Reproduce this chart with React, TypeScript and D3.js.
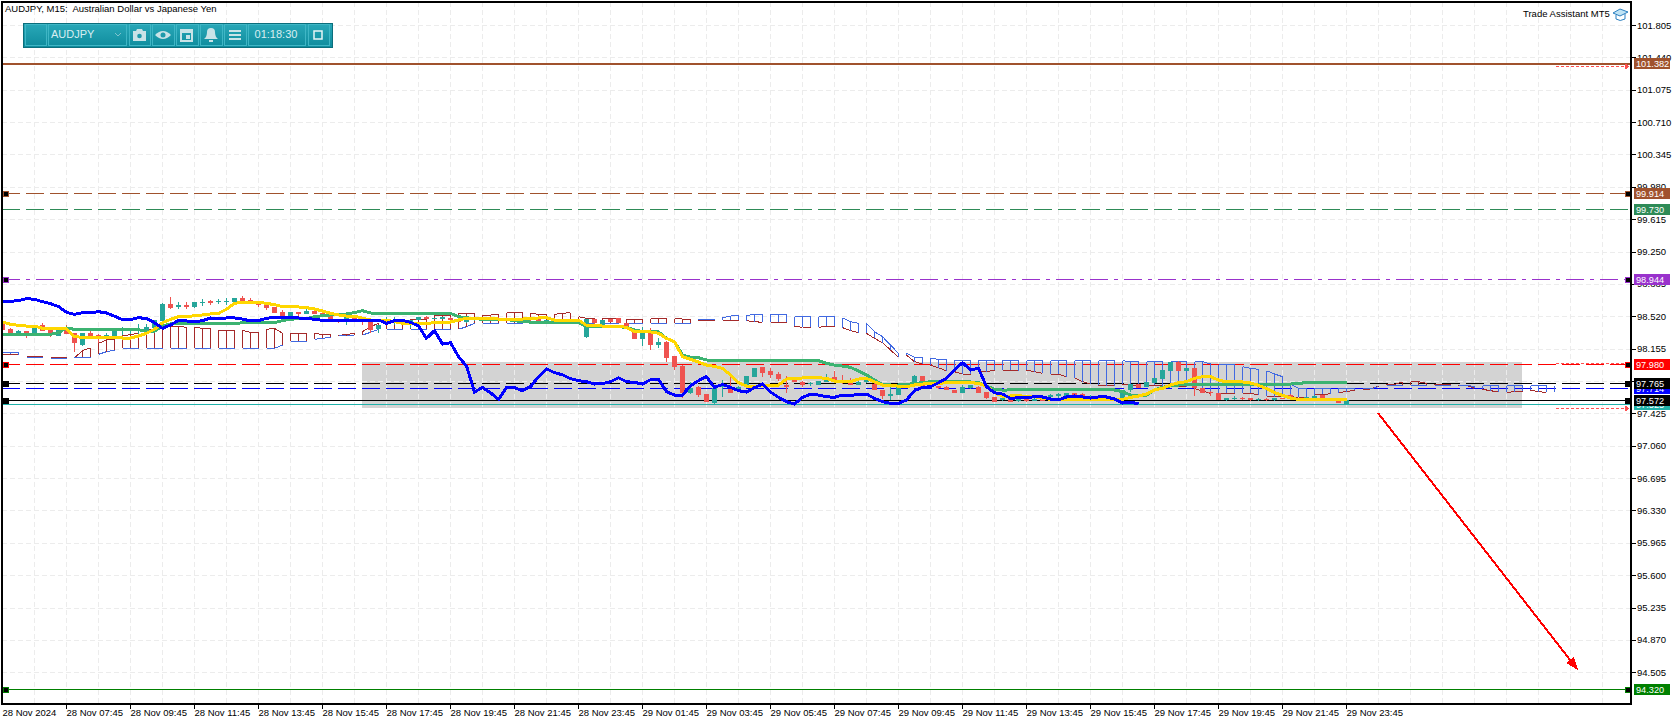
import * as d3 from 'd3'
import { useEffect, useRef } from 'react'

const WIDTH = 1679
const HEIGHT = 725
const PLOT_L = 2
const PLOT_T = 2
const PLOT_R = 1631
const PLOT_B = 704
const FONT = '"Liberation Sans", Arial, sans-serif'
const UP = '#26a69a'
const DOWN = '#ef5350'

const priceTicks = [101.805, 101.44, 101.075, 100.71, 100.345, 99.98, 99.615, 99.25, 98.885, 98.52, 98.155, 97.79, 97.425, 97.06, 96.695, 96.33, 95.965, 95.6, 95.235, 94.87, 94.505]
const timeTicks = d3.range(0, 169, 8)
const timeLabels = ['28 Nov 2024', '28 Nov 07:45', '28 Nov 09:45', '28 Nov 11:45', '28 Nov 13:45', '28 Nov 15:45', '28 Nov 17:45', '28 Nov 19:45', '28 Nov 21:45', '28 Nov 23:45', '29 Nov 01:45', '29 Nov 03:45', '29 Nov 05:45', '29 Nov 07:45', '29 Nov 09:45', '29 Nov 11:45', '29 Nov 13:45', '29 Nov 15:45', '29 Nov 17:45', '29 Nov 19:45', '29 Nov 21:45', '29 Nov 23:45']

const opens = [
  98.441, 98.377, 98.313, 98.350, 98.320, 98.422, 98.377, 98.298, 98.384, 98.328,
  98.196, 98.335, 98.309, 98.290, 98.283, 98.358, 98.354, 98.358, 98.358, 98.384,
  98.467, 98.659, 98.629, 98.651, 98.629, 98.666, 98.696, 98.677, 98.685, 98.681,
  98.730, 98.704, 98.674, 98.659, 98.625, 98.572, 98.523, 98.568, 98.546, 98.580,
  98.553, 98.527, 98.489, 98.470, 98.508, 98.489, 98.470, 98.373, 98.470, 98.467,
  98.478, 98.459, 98.478, 98.512, 98.493, 98.493, 98.504, 98.493, 98.459, 98.478,
  98.497, 98.516, 98.505, 98.504, 98.498, 98.497, 98.486, 98.486, 98.468, 98.460,
  98.474, 98.482, 98.474, 98.290, 98.489, 98.422, 98.485, 98.500, 98.440, 98.373,
  98.267, 98.365, 98.192, 98.234, 98.072, 97.959, 97.658, 97.726, 97.643, 97.538,
  97.718, 97.696, 97.696, 97.745, 97.839, 97.944, 97.903, 97.869, 97.745, 97.801,
  97.782, 97.752, 97.745, 97.782, 97.831, 97.782, 97.782, 97.745, 97.782, 97.756,
  97.688, 97.624, 97.632, 97.730, 97.756, 97.843, 97.764, 97.733, 97.726, 97.688,
  97.651, 97.707, 97.726, 97.662, 97.606, 97.575, 97.594, 97.560, 97.590, 97.565,
  97.590, 97.606, 97.621, 97.613, 97.651, 97.643, 97.606, 97.620, 97.590, 97.570,
  97.595, 97.689, 97.756, 97.719, 97.764, 97.813, 97.903, 98.008, 97.903, 97.933,
  97.707, 97.670, 97.651, 97.576, 97.590, 97.600, 97.595, 97.585, 97.590, 97.576,
  97.595, 97.632, 97.595, 97.587, 97.598, 97.628, 97.583, 97.565, 97.535,
]
const highs = [
  98.445, 98.385, 98.365, 98.355, 98.415, 98.448, 98.385, 98.373, 98.422, 98.335,
  98.335, 98.358, 98.320, 98.335, 98.365, 98.403, 98.384, 98.433, 98.433, 98.478,
  98.666, 98.741, 98.677, 98.677, 98.677, 98.711, 98.700, 98.715, 98.722, 98.730,
  98.753, 98.722, 98.680, 98.665, 98.630, 98.591, 98.572, 98.572, 98.606, 98.585,
  98.555, 98.530, 98.492, 98.508, 98.512, 98.492, 98.475, 98.422, 98.516, 98.516,
  98.485, 98.482, 98.512, 98.520, 98.504, 98.512, 98.510, 98.500, 98.478, 98.505,
  98.515, 98.520, 98.510, 98.512, 98.505, 98.503, 98.492, 98.490, 98.480, 98.490,
  98.490, 98.490, 98.488, 98.489, 98.495, 98.478, 98.490, 98.505, 98.445, 98.378,
  98.403, 98.384, 98.271, 98.240, 98.075, 97.965, 97.782, 97.735, 97.648, 97.710,
  97.800, 97.839, 97.735, 97.850, 97.936, 97.952, 97.933, 97.895, 97.846, 97.810,
  97.785, 97.775, 97.790, 97.869, 97.906, 97.854, 97.820, 97.785, 97.820, 97.782,
  97.692, 97.745, 97.760, 97.760, 97.860, 97.850, 97.770, 97.738, 97.733, 97.690,
  97.745, 97.745, 97.735, 97.665, 97.610, 97.600, 97.600, 97.600, 97.595, 97.600,
  97.600, 97.640, 97.650, 97.651, 97.655, 97.650, 97.630, 97.630, 97.600, 97.610,
  97.690, 97.756, 97.760, 97.775, 97.820, 97.914, 98.008, 98.020, 97.933, 97.940,
  97.710, 97.675, 97.655, 97.600, 97.620, 97.605, 97.600, 97.600, 97.595, 97.600,
  97.600, 97.640, 97.600, 97.610, 97.630, 97.632, 97.590, 97.570, 97.580,
]
const lows = [
  98.365, 98.320, 98.305, 98.271, 98.320, 98.350, 98.283, 98.298, 98.320, 98.121,
  98.190, 98.298, 98.215, 98.271, 98.283, 98.309, 98.320, 98.320, 98.358, 98.384,
  98.467, 98.599, 98.602, 98.599, 98.610, 98.640, 98.647, 98.655, 98.647, 98.681,
  98.674, 98.666, 98.621, 98.591, 98.553, 98.523, 98.523, 98.516, 98.546, 98.546,
  98.516, 98.478, 98.448, 98.422, 98.478, 98.422, 98.335, 98.335, 98.422, 98.422,
  98.459, 98.384, 98.478, 98.486, 98.490, 98.490, 98.478, 98.459, 98.440, 98.470,
  98.490, 98.485, 98.495, 98.492, 98.490, 98.480, 98.470, 98.470, 98.460, 98.445,
  98.465, 98.470, 98.466, 98.278, 98.384, 98.422, 98.459, 98.440, 98.395, 98.264,
  98.185, 98.140, 98.166, 98.008, 97.914, 97.594, 97.640, 97.610, 97.550, 97.530,
  97.610, 97.650, 97.670, 97.745, 97.839, 97.839, 97.820, 97.794, 97.658, 97.780,
  97.718, 97.730, 97.745, 97.780, 97.790, 97.755, 97.740, 97.745, 97.770, 97.688,
  97.583, 97.575, 97.632, 97.725, 97.756, 97.718, 97.726, 97.696, 97.688, 97.650,
  97.650, 97.700, 97.651, 97.590, 97.555, 97.560, 97.555, 97.555, 97.555, 97.560,
  97.560, 97.590, 97.600, 97.600, 97.620, 97.600, 97.590, 97.580, 97.560, 97.560,
  97.590, 97.670, 97.707, 97.719, 97.764, 97.813, 97.903, 97.903, 97.903, 97.621,
  97.660, 97.620, 97.575, 97.565, 97.575, 97.580, 97.570, 97.565, 97.560, 97.570,
  97.590, 97.585, 97.570, 97.580, 97.590, 97.580, 97.560, 97.540, 97.530,
]
const closes = [
  98.365, 98.320, 98.358, 98.298, 98.411, 98.358, 98.313, 98.373, 98.320, 98.215,
  98.335, 98.298, 98.290, 98.309, 98.358, 98.365, 98.365, 98.373, 98.403, 98.478,
  98.659, 98.617, 98.647, 98.629, 98.677, 98.685, 98.666, 98.696, 98.692, 98.730,
  98.696, 98.666, 98.647, 98.610, 98.553, 98.523, 98.572, 98.542, 98.583, 98.546,
  98.516, 98.478, 98.471, 98.508, 98.478, 98.470, 98.365, 98.422, 98.482, 98.478,
  98.459, 98.478, 98.512, 98.486, 98.504, 98.512, 98.478, 98.459, 98.478, 98.497,
  98.508, 98.505, 98.501, 98.498, 98.495, 98.486, 98.474, 98.471, 98.474, 98.478,
  98.480, 98.476, 98.482, 98.489, 98.440, 98.478, 98.459, 98.440, 98.395, 98.264,
  98.346, 98.196, 98.230, 98.053, 97.952, 97.651, 97.715, 97.632, 97.557, 97.707,
  97.745, 97.658, 97.718, 97.846, 97.933, 97.884, 97.858, 97.809, 97.726, 97.782,
  97.745, 97.771, 97.790, 97.809, 97.794, 97.764, 97.745, 97.782, 97.809, 97.688,
  97.621, 97.640, 97.718, 97.752, 97.846, 97.718, 97.726, 97.715, 97.688, 97.651,
  97.718, 97.745, 97.651, 97.594, 97.557, 97.594, 97.557, 97.590, 97.565, 97.590,
  97.565, 97.632, 97.640, 97.651, 97.628, 97.606, 97.620, 97.590, 97.570, 97.600,
  97.689, 97.756, 97.707, 97.775, 97.820, 97.914, 98.008, 97.903, 97.933, 97.707,
  97.660, 97.651, 97.576, 97.595, 97.600, 97.585, 97.576, 97.590, 97.575, 97.595,
  97.592, 97.587, 97.576, 97.606, 97.621, 97.583, 97.565, 97.545, 97.572,
]

// Tenkan
const tenkan = [
  98.456, 98.429, 98.418, 98.410, 98.410, 98.384, 98.377, 98.377, 98.377, 98.290,
  98.283, 98.283, 98.283, 98.283, 98.279, 98.275, 98.275, 98.298, 98.328, 98.373,
  98.448, 98.486, 98.516, 98.516, 98.527, 98.535, 98.546, 98.553, 98.599, 98.666,
  98.677, 98.681, 98.677, 98.666, 98.651, 98.629, 98.625, 98.625, 98.617, 98.602,
  98.580, 98.553, 98.535, 98.523, 98.523, 98.497, 98.478, 98.478, 98.478, 98.459,
  98.440, 98.440, 98.440, 98.440, 98.448, 98.448, 98.455, 98.478, 98.497, 98.497,
  98.497, 98.493, 98.489, 98.486, 98.486, 98.489, 98.493, 98.501, 98.504, 98.478,
  98.478, 98.478, 98.478, 98.418, 98.414, 98.410, 98.410, 98.407, 98.395, 98.346,
  98.343, 98.343, 98.328, 98.271, 98.233, 98.064, 98.034, 98.004, 97.970, 97.955,
  97.933, 97.858, 97.771, 97.733, 97.726, 97.745, 97.745, 97.745, 97.812, 97.820,
  97.824, 97.827, 97.827, 97.820, 97.790, 97.782, 97.782, 97.812, 97.820, 97.782,
  97.745, 97.737, 97.733, 97.726, 97.745, 97.756, 97.764, 97.764, 97.771, 97.771,
  97.771, 97.771, 97.764, 97.733, 97.658, 97.621, 97.621, 97.628, 97.613, 97.613,
  97.595, 97.583, 97.576, 97.576, 97.576, 97.576, 97.576, 97.576, 97.576, 97.576,
  97.583, 97.606, 97.621, 97.643, 97.689, 97.707, 97.745, 97.771, 97.783, 97.820,
  97.839, 97.839, 97.801, 97.779, 97.779, 97.779, 97.768, 97.741, 97.704, 97.659,
  97.628, 97.598, 97.583, 97.583, 97.583, 97.583, 97.583, 97.583, 97.583,
]
// Kijun
const kijun = [
  98.313, 98.313, 98.313, 98.313, 98.313, 98.313, 98.317, 98.335, 98.388, 98.373,
  98.369, 98.369, 98.369, 98.369, 98.369, 98.369, 98.369, 98.369, 98.347, 98.350,
  98.414, 98.433, 98.437, 98.437, 98.437, 98.437, 98.437, 98.437, 98.437, 98.437,
  98.448, 98.448, 98.448, 98.448, 98.448, 98.471, 98.486, 98.493, 98.493, 98.516,
  98.527, 98.535, 98.535, 98.546, 98.561, 98.583, 98.557, 98.553, 98.553, 98.553,
  98.553, 98.553, 98.553, 98.553, 98.553, 98.553, 98.553, 98.516, 98.504, 98.493,
  98.486, 98.486, 98.486, 98.486, 98.470, 98.459, 98.455, 98.448, 98.448, 98.448,
  98.448, 98.448, 98.448, 98.403, 98.403, 98.403, 98.403, 98.403, 98.395, 98.365,
  98.350, 98.343, 98.343, 98.271, 98.233, 98.083, 98.057, 98.053, 98.027, 98.019,
  98.019, 98.019, 98.019, 98.019, 98.019, 98.019, 98.019, 98.019, 98.019, 98.019,
  98.019, 98.019, 98.019, 97.989, 97.970, 97.959, 97.944, 97.903, 97.858, 97.801,
  97.752, 97.745, 97.745, 97.749, 97.764, 97.771, 97.782, 97.782, 97.782, 97.782,
  97.782, 97.779, 97.771, 97.733, 97.696, 97.688, 97.689, 97.689, 97.689, 97.689,
  97.689, 97.689, 97.689, 97.689, 97.689, 97.689, 97.689, 97.689, 97.689, 97.689,
  97.670, 97.632, 97.632, 97.632, 97.689, 97.719, 97.734, 97.745, 97.756, 97.756,
  97.756, 97.756, 97.756, 97.756, 97.756, 97.756, 97.756, 97.745, 97.749, 97.749,
  97.749, 97.756, 97.764, 97.771, 97.771, 97.771, 97.771, 97.771, 97.771,
]
// Chikou stops 26 bars before the last candle
const chikou = [
  98.685, 98.689, 98.696, 98.719, 98.711, 98.685, 98.662, 98.629, 98.565, 98.542,
  98.561, 98.561, 98.572, 98.557, 98.520, 98.482, 98.482, 98.505, 98.493, 98.448,
  98.384, 98.422, 98.474, 98.467, 98.456, 98.471, 98.501, 98.497, 98.501, 98.501,
  98.489, 98.467, 98.471, 98.497, 98.508, 98.505, 98.501, 98.501, 98.497, 98.486,
  98.474, 98.471, 98.471, 98.478, 98.478, 98.478, 98.478, 98.478, 98.440, 98.470,
  98.474, 98.452, 98.410, 98.271, 98.358, 98.207, 98.222, 98.064, 97.959, 97.666,
  97.718, 97.658, 97.583, 97.718, 97.715, 97.681, 97.726, 97.839, 97.929, 97.884,
  97.861, 97.816, 97.794, 97.782, 97.756, 97.760, 97.782, 97.827, 97.782, 97.775,
  97.756, 97.805, 97.805, 97.670, 97.632, 97.632, 97.735, 97.794, 97.839, 97.718,
  97.752, 97.718, 97.681, 97.666, 97.715, 97.756, 97.666, 97.606, 97.557, 97.530,
  97.606, 97.640, 97.632, 97.613, 97.606, 97.632, 97.625, 97.640, 97.643, 97.594,
  97.557, 97.538, 97.538, 97.576, 97.681, 97.718, 97.726, 97.771, 97.820, 97.914,
  97.997, 97.914, 97.933, 97.726, 97.658, 97.643, 97.594, 97.602, 97.602, 97.613,
  97.610, 97.587, 97.576, 97.610, 97.621, 97.610, 97.598, 97.610, 97.610, 97.587,
  97.542, 97.553, 97.531,
]
// Cloud runs 26 bars past the last candle
const spanA = [
  98.091, 98.091, 98.083, 98.065, 98.065, 98.065, 98.053, 98.053, 98.053, 98.053,
  98.132, 98.166, 98.215, 98.253, 98.264, 98.298, 98.313, 98.328, 98.365, 98.377,
  98.403, 98.407, 98.407, 98.395, 98.395, 98.384, 98.384, 98.362, 98.362, 98.362,
  98.362, 98.339, 98.339, 98.373, 98.384, 98.328, 98.328, 98.328, 98.328, 98.328,
  98.313, 98.313, 98.305, 98.313, 98.328, 98.346, 98.403, 98.440, 98.478, 98.478,
  98.478, 98.478, 98.486, 98.486, 98.534, 98.534, 98.534, 98.553, 98.553, 98.553,
  98.534, 98.534, 98.542, 98.561, 98.561, 98.561, 98.553, 98.542, 98.542, 98.542,
  98.553, 98.561, 98.516, 98.497, 98.497, 98.497, 98.497, 98.497, 98.486, 98.486,
  98.486, 98.489, 98.497, 98.497, 98.493, 98.489, 98.478, 98.474, 98.478, 98.478,
  98.478, 98.478, 98.478, 98.470, 98.459, 98.452, 98.452, 98.452, 98.452, 98.410,
  98.395, 98.395, 98.395, 98.410, 98.410, 98.392, 98.358, 98.335, 98.328, 98.271,
  98.222, 98.140, 98.057, 98.083, 98.008, 97.982, 97.970, 97.940, 97.903, 97.895,
  97.869, 97.869, 97.895, 97.895, 97.914, 97.914, 97.914, 97.906, 97.914, 97.895,
  97.877, 97.865, 97.865, 97.839, 97.828, 97.783, 97.756, 97.745, 97.737, 97.737,
  97.756, 97.745, 97.745, 97.745, 97.741, 97.734, 97.734, 97.730, 97.726, 97.707,
  97.677, 97.651, 97.651, 97.651, 97.651, 97.651, 97.651, 97.632, 97.621, 97.613,
  97.613, 97.613, 97.606, 97.606, 97.636, 97.640, 97.645, 97.660, 97.670, 97.685,
  97.700, 97.696, 97.737, 97.752, 97.752, 97.782, 97.782, 97.782, 97.764, 97.752,
  97.752, 97.752, 97.745, 97.741, 97.707, 97.696, 97.681, 97.666, 97.662, 97.670,
  97.677, 97.685, 97.670, 97.662, 97.662,
]
const spanB = [
  98.110, 98.110, 98.110, 98.057, 98.057, 98.057, 98.046, 98.046, 98.046, 98.053,
  98.057, 98.057, 98.091, 98.121, 98.136, 98.159, 98.159, 98.159, 98.159, 98.159,
  98.159, 98.159, 98.159, 98.159, 98.159, 98.159, 98.159, 98.159, 98.159, 98.159,
  98.159, 98.159, 98.159, 98.159, 98.159, 98.196, 98.238, 98.238, 98.238, 98.260,
  98.271, 98.283, 98.298, 98.301, 98.309, 98.309, 98.339, 98.373, 98.373, 98.373,
  98.373, 98.373, 98.373, 98.373, 98.373, 98.373, 98.373, 98.373, 98.403, 98.440,
  98.440, 98.440, 98.440, 98.440, 98.440, 98.440, 98.440, 98.440, 98.440, 98.440,
  98.440, 98.440, 98.440, 98.440, 98.440, 98.440, 98.440, 98.440, 98.440, 98.440,
  98.440, 98.440, 98.440, 98.440, 98.440, 98.440, 98.440, 98.478, 98.486, 98.486,
  98.504, 98.523, 98.534, 98.527, 98.542, 98.542, 98.542, 98.542, 98.542, 98.516,
  98.516, 98.516, 98.516, 98.516, 98.516, 98.504, 98.459, 98.440, 98.440, 98.346,
  98.290, 98.196, 98.102, 98.102, 98.057, 98.057, 98.046, 98.034, 98.034, 98.027,
  98.023, 98.023, 98.023, 98.023, 98.023, 98.023, 98.023, 98.023, 98.019, 98.019,
  98.019, 98.019, 98.019, 98.019, 98.019, 98.019, 98.019, 98.019, 98.019, 98.019,
  98.019, 98.008, 98.008, 98.008, 98.008, 98.008, 98.008, 98.008, 98.008, 98.008,
  98.008, 97.982, 97.971, 97.971, 97.971, 97.952, 97.933, 97.922, 97.907, 97.869,
  97.839, 97.756, 97.707, 97.707, 97.707, 97.707, 97.707, 97.707, 97.707, 97.707,
  97.700, 97.700, 97.726, 97.745, 97.745, 97.745, 97.745, 97.745, 97.745, 97.745,
  97.745, 97.745, 97.745, 97.745, 97.726, 97.737, 97.737, 97.737, 97.737, 97.737,
  97.737, 97.737, 97.737, 97.737, 97.737,
]

const levelPrices = [101.382, 99.914, 99.73, 98.944, 97.98, 97.709, 97.765, 97.53, 97.572, 94.32]
const levelLabels = ['101.382', '99.914', '99.730', '98.944', '97.980', '97.714', '97.765', '97.525', '97.572', '94.320']
const levelColors = ['#a0522d', '#a0522d', '#2e8b57', '#9932cc', '#ff0000', '#0000ff', '#000000', '#20b2aa', '#000000', '#008000']
const levelDashes = ['', '18 6', '18 6', '18 6 4 6', '18 6', '18 6', '18 6', '', '', '']
const levelWidths = [2, 1, 1, 1, 1, 1, 1, 1, 1, 1]
const levelMarkers = [false, true, false, true, true, false, true, false, true, true]

const bandPrices = [97.98, 97.485]
const bandBars = [45, 190]
const targetBars = [172, 197]
const targetPrices = [97.43, 94.53]
const signalPrices = [101.339, 97.997, 97.482]
const signalBars = [194.25, 203.4]

export default function App() {
  const rootRef = useRef<SVGGElement>(null)

  useEffect(() => {
    if (!rootRef.current) return
    const root = d3.select(rootRef.current)
    root.selectAll('*').remove()

    const x = d3.scaleLinear().domain([0, 8]).range([PLOT_L, PLOT_L + 64])
    const y = d3.scaleLinear().domain([101.805, 94.505]).range([25, 672.3])

    const defs = root.append('defs')
    defs.append('clipPath').attr('id', 'plot')
      .append('rect').attr('x', PLOT_L).attr('y', PLOT_T)
      .attr('width', PLOT_R - PLOT_L).attr('height', PLOT_B - PLOT_T)
    const grad = defs.append('linearGradient').attr('id', 'bar').attr('x1', 0).attr('x2', 0).attr('y1', 0).attr('y2', 1)
    grad.append('stop').attr('offset', 0).attr('stop-color', '#2aa9b9')
    grad.append('stop').attr('offset', 1).attr('stop-color', '#0f8c9d')

    const plot = root.append('g').attr('clip-path', 'url(#plot)').attr('shape-rendering', 'crispEdges')

    // Grey range box
    plot.append('rect')
      .attr('x', x(bandBars[0])).attr('y', y(bandPrices[0]) - 2)
      .attr('width', x(bandBars[1]) - x(bandBars[0]))
      .attr('height', y(bandPrices[1]) - y(bandPrices[0]) + 2)
      .attr('fill', '#d3d3d3')

    // Grid
    const grid = plot.append('g').attr('stroke', '#ececec').attr('stroke-dasharray', '5 3')
    priceTicks.forEach(t => {
      grid.append('line').attr('x1', PLOT_L).attr('x2', PLOT_R)
        .attr('y1', Math.round(y(t)) + 0.5).attr('y2', Math.round(y(t)) + 0.5)
    })
    d3.range(PLOT_L + 32, PLOT_R, 32).forEach(px => {
      grid.append('line').attr('y1', PLOT_T).attr('y2', PLOT_B)
        .attr('x1', px + 0.5).attr('x2', px + 0.5)
    })

    // Horizontal levels
    levelPrices.forEach((p, i) => {
      plot.append('line')
        .attr('x1', PLOT_L).attr('x2', PLOT_R)
        .attr('y1', Math.round(y(p)) + 0.5).attr('y2', Math.round(y(p)) + 0.5)
        .attr('stroke', levelColors[i])
        .attr('stroke-width', levelWidths[i])
        .attr('stroke-dasharray', levelDashes[i] || null)
    })

    // Ichimoku cloud, drawn in dashed groups of three bars
    const hasSegment = (i: number) => (i < 110 ? i % 3 < 2 : (i + 1) % 3 < 2)
    const cloud = plot.append('g').attr('fill', 'none').attr('stroke-width', 1)
    d3.range(spanA.length).forEach(i => {
      const cx = x(i) + 0.5
      if (i + 1 < spanA.length && hasSegment(i)) {
        cloud.append('line').attr('x1', cx).attr('x2', x(i + 1) + 0.5)
          .attr('y1', y(spanA[i])).attr('y2', y(spanA[i + 1])).attr('stroke', '#a52a2a')
        cloud.append('line').attr('x1', cx).attr('x2', x(i + 1) + 0.5)
          .attr('y1', y(spanB[i])).attr('y2', y(spanB[i + 1])).attr('stroke', '#4169e1')
      }
      if (hasSegment(i) || (i > 0 && hasSegment(i - 1)) || (i >= 141 && i <= 161)) {
        cloud.append('line').attr('x1', cx).attr('x2', cx)
          .attr('y1', y(spanA[i])).attr('y2', y(spanB[i]))
          .attr('stroke', spanA[i] > spanB[i] ? '#a52a2a' : '#4169e1')
      }
    })

    // Candles
    const candles = plot.append('g').selectAll('g').data(d3.range(opens.length)).enter().append('g')
    candles.append('rect')
      .attr('x', i => x(i)).attr('width', 1)
      .attr('y', i => y(highs[i]))
      .attr('height', i => Math.max(1, y(lows[i]) - y(highs[i])))
      .attr('fill', i => (closes[i] >= opens[i] ? UP : DOWN))
    candles.append('rect')
      .attr('x', i => x(i) - 2).attr('width', 5)
      .attr('y', i => y(Math.max(opens[i], closes[i])))
      .attr('height', i => Math.max(1, Math.abs(y(opens[i]) - y(closes[i]))))
      .attr('fill', i => (closes[i] >= opens[i] ? UP : DOWN))

    // Ichimoku lines
    const line = d3.line<number>().x((_, i) => x(i) + 0.5).y(d => y(d))
    plot.append('path').attr('d', line(kijun)).attr('fill', 'none').attr('stroke', '#3cb371').attr('stroke-width', 3)
    plot.append('path').attr('d', line(tenkan)).attr('fill', 'none').attr('stroke', '#ffd700').attr('stroke-width', 3)
    plot.append('path').attr('d', line(chikou)).attr('fill', 'none').attr('stroke', '#0000ff').attr('stroke-width', 3)

    // Target arrow
    const ax0 = x(targetBars[0]), ay0 = y(targetPrices[0]), ax1 = x(targetBars[1]), ay1 = y(targetPrices[1])
    const ang = Math.atan2(ay1 - ay0, ax1 - ax0)
    plot.append('line').attr('x1', ax0).attr('y1', ay0).attr('x2', ax1 - 6 * Math.cos(ang)).attr('y2', ay1 - 6 * Math.sin(ang))
      .attr('stroke', '#ff0000').attr('stroke-width', 2)
    const headPt = (back: number, side: number) => [
      ax1 - back * Math.cos(ang) - side * Math.sin(ang),
      ay1 - back * Math.sin(ang) + side * Math.cos(ang),
    ]
    plot.append('polygon')
      .attr('points', [headPt(0, 0), headPt(13, 5), headPt(13, -5)].map(d => d.join(',')).join(' '))
      .attr('fill', '#ff0000')

    // Small signal arrows
    signalPrices.forEach((p, i) => {
      const sy = Math.round(y(p)) + 0.5
      plot.append('line').attr('x1', x(signalBars[0])).attr('x2', x(signalBars[1]))
        .attr('y1', sy).attr('y2', sy).attr('stroke', '#ff5050').attr('stroke-dasharray', '3 2')
      if (i !== 1) {
        plot.append('polygon')
          .attr('points', `${x(signalBars[1])},${sy} ${x(signalBars[1]) - 4},${sy - 3} ${x(signalBars[1]) - 4},${sy + 3}`)
          .attr('fill', '#ff5050')
      }
    })

    // Level anchors
    levelPrices.forEach((p, i) => {
      if (!levelMarkers[i]) return
      const my = Math.round(y(p))
      const big = levelColors[i] === '#000000'
      ;[PLOT_L + 1, PLOT_R - 6].forEach(mx => {
        plot.append('rect').attr('x', mx).attr('y', my - 2).attr('width', 5).attr('height', 5)
          .attr('fill', '#000').attr('stroke', big ? '#000' : levelColors[i])
      })
    })

    // Frame
    root.append('rect').attr('x', PLOT_L).attr('y', PLOT_T)
      .attr('width', PLOT_R - PLOT_L).attr('height', PLOT_B - PLOT_T)
      .attr('fill', 'none').attr('stroke', '#000').attr('stroke-width', 1.5)
      .attr('shape-rendering', 'crispEdges')

    // Price axis
    const yAxis = root.append('g').attr('transform', `translate(${PLOT_R},0)`)
      .call(d3.axisRight(y).tickValues(priceTicks).tickSize(5).tickPadding(1).tickFormat(d => Number(d).toFixed(3)))
    yAxis.select('.domain').remove()
    yAxis.selectAll('line').attr('stroke', '#000').attr('shape-rendering', 'crispEdges')
    yAxis.selectAll('text').attr('font-family', FONT).attr('font-size', 9.5).attr('fill', '#000')

    // Time axis
    const xAxis = root.append('g').attr('transform', `translate(0,${PLOT_B})`)
      .call(d3.axisBottom(x).tickValues(timeTicks).tickSize(5).tickFormat((_, i) => timeLabels[i]))
    xAxis.select('.domain').remove()
    xAxis.selectAll('line').attr('stroke', '#000').attr('shape-rendering', 'crispEdges')
    xAxis.selectAll('text').attr('font-family', FONT).attr('font-size', 9.5).attr('fill', '#000')
      .attr('text-anchor', 'start').attr('y', 5).attr('dy', '0.71em')
    xAxis.selectAll('.tick').filter((_, i) => i === 0).select('line').remove()

    // Price tags
    levelPrices.forEach((p, i) => {
      const ty = y(p)
      root.append('rect').attr('x', 1634).attr('y', Math.round(ty) - 5).attr('width', 36).attr('height', 11)
        .attr('fill', levelColors[i]).attr('shape-rendering', 'crispEdges')
      root.append('text').attr('x', 1636).attr('y', Math.round(ty) + 3.5)
        .attr('font-family', FONT).attr('font-size', 9.2).attr('fill', '#fff').text(levelLabels[i])
    })
  }, [])

  const buttons = [[25, 21], [48, 78], [129, 21], [152, 22], [176, 22], [200, 22], [224, 22], [248, 57], [308, 21]]
  const icon = '#c9e3e7'

  return (
    <svg width={WIDTH} height={HEIGHT} style={{ position: 'absolute', left: 0, top: 0, background: '#fff' }}>
      <g ref={rootRef} />
      <text x={5} y={12} fontFamily={FONT} fontSize={9.5} xmlSpace="preserve">AUDJPY, M15:  Australian Dollar vs Japanese Yen</text>
      <text x={1523} y={17} fontFamily={FONT} fontSize={9.5}>Trade Assistant MT5</text>
      <g fill="none" stroke="#2a7fc0" strokeWidth={1}>
        <path d="M1613 13 L1620 9 L1628 12 L1620 16 Z" fill="#bfe3f5" />
        <path d="M1616 15 V19 Q1620 22 1625 19 V14" />
      </g>
      <g shapeRendering="crispEdges">
        <rect x={23} y={23} width={309} height={24} fill="url(#bar)" stroke="#0b6e7c" />
        {buttons.map(([bx, bw]) => (
          <rect key={bx} x={bx} y={24} width={bw} height={21} fill="none" stroke="#3fb6c5" />
        ))}
      </g>
      <text x={51} y={38} fontFamily={FONT} fontSize={11} fill="#d8eef1">AUDJPY</text>
      <path d="M115 33 L118 36 L121 33" fill="none" stroke="#7fc3cd" />
      <text x={276} y={38} fontFamily={FONT} fontSize={11} fill="#d8eef1" textAnchor="middle">01:18:30</text>
      <g fill={icon}>
        <path d="M133 31 H136 L137 29 H142 L143 31 H146 V41 H133 Z" />
        <circle cx={139.5} cy={36} r={2.3} fill="#1e9aab" />
        <path d="M155 35 Q163 27 171 35 Q163 43 155 35 Z" />
        <circle cx={163} cy={35} r={2.5} fill="#1e9aab" />
        <path d="M180 29 H193 V42 H180 Z M182 33 V40 H191 V33 Z M186 35 H190 V39 H186 Z" fillRule="evenodd" />
        <path d="M204 39 Q207 37 207 32 Q207 28 211 28 Q215 28 215 32 Q215 37 218 39 Z M209 40 H213 V42 H209 Z" />
        <rect x={229} y={30} width={12} height={2} />
        <rect x={229} y={34} width={12} height={2} />
        <rect x={229} y={38} width={12} height={2} />
      </g>
      <rect x={314} y={31} width={8} height={8} fill="none" stroke="#e8f5f6" strokeWidth={1.5} />
    </svg>
  )
}
